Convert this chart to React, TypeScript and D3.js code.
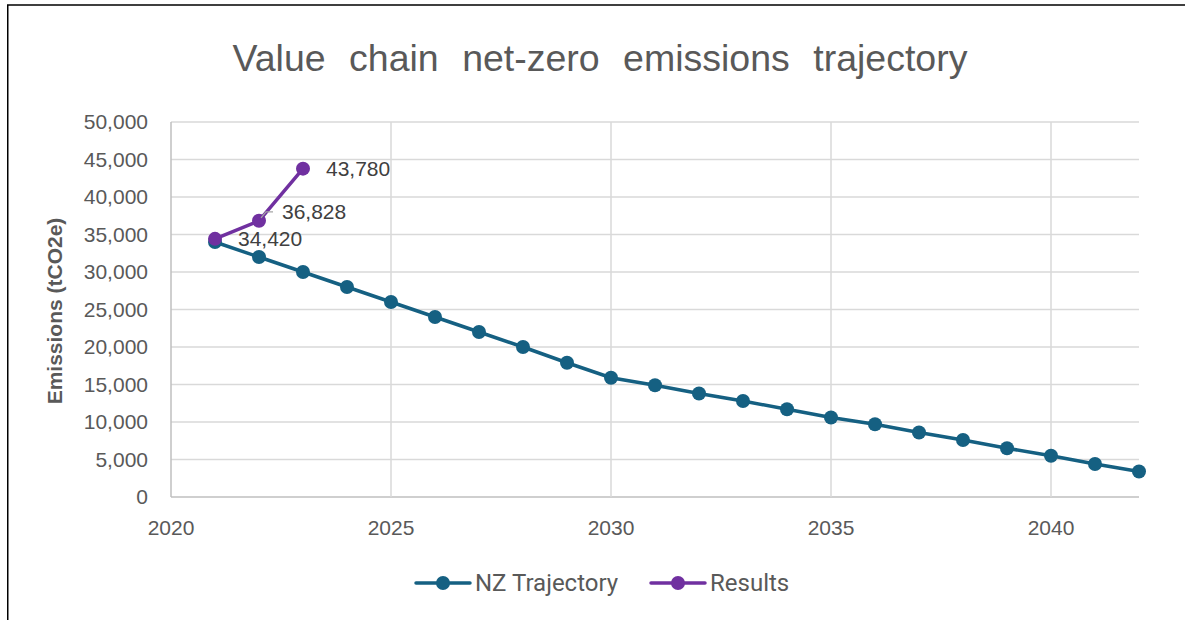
import React from "react";
import * as d3 from "d3";

const years: number[] = [2021, 2022, 2023, 2024, 2025, 2026, 2027, 2028, 2029, 2030, 2031, 2032, 2033, 2034, 2035, 2036, 2037, 2038, 2039, 2040, 2041, 2042];
const nzTrajectory: number[] = [34000, 32000, 30000, 28000, 26000, 24000, 22000, 20000, 17900, 15900, 14900, 13800, 12800, 11700, 10600, 9700, 8600, 7600, 6500, 5500, 4400, 3400];
const resultYears: number[] = [2021, 2022, 2023];
const results: number[] = [34420, 36828, 43780];
const xTicks: number[] = [2020, 2025, 2030, 2035, 2040];
const yTicks: number[] = [0, 5000, 10000, 15000, 20000, 25000, 30000, 35000, 40000, 45000, 50000];

const TITLE = "Value chain net-zero emissions trajectory";
const Y_TITLE = "Emissions (tCO2e)";
const SERIES = ["NZ Trajectory", "Results"];

const W = 1185;
const H = 620;
const left = 171;
const right = 1139;
const top = 122;
const bottom = 497;
const TEAL = "#156082";
const PURPLE = "#7030A0";
const GRID = "#d9d9d9";
const TEXT = "#595959";
const SANS = "'Liberation Sans', Arial, sans-serif";

export default function App() {
  const x = d3.scaleLinear().domain([2020, 2042]).range([left, right]);
  const y = d3.scaleLinear().domain([0, 50000]).range([bottom, top]);
  const fmt = d3.format(",");
  const line = d3
    .line<[number, number]>()
    .x((d) => x(d[0]))
    .y((d) => y(d[1]));
  const nzPts: [number, number][] = years.map((yr, i) => [yr, nzTrajectory[i]]);
  const resPts: [number, number][] = resultYears.map((yr, i) => [yr, results[i]]);

  return (
    <svg
      width={W}
      height={H}
      style={{ position: "absolute", left: 0, top: 0, background: "#fff" }}
    >
      <rect x={0} y={0} width={W} height={H} fill="#fff" />
      <rect x={7.75} y={5} width={1300} height={800} fill="none" stroke="#000" strokeWidth={1.5} />
      <text
        x={600}
        y={71}
        textAnchor="middle"
        fontFamily={SANS}
        fontSize={37.5}
        fill={TEXT}
        style={{ wordSpacing: "13px" }}
      >
        {TITLE}
      </text>

      {/* gridlines */}
      {yTicks.map((t) => (
        <line key={"gy" + t} x1={left} x2={right} y1={y(t)} y2={y(t)} stroke={t === 0 ? "#bfbfbf" : GRID} strokeWidth={1.5} />
      ))}
      {xTicks.map((t) => (
        <line key={"gx" + t} x1={x(t)} x2={x(t)} y1={top} y2={bottom} stroke={t === 2020 ? "#bfbfbf" : GRID} strokeWidth={1.5} />
      ))}

      {/* y tick labels */}
      {yTicks.map((t) => (
        <text key={"ly" + t} x={148} y={y(t) + 7} textAnchor="end" fontFamily={SANS} fontSize={21} fill={TEXT}>
          {fmt(t)}
        </text>
      ))}
      {/* x tick labels */}
      {xTicks.map((t) => (
        <text key={"lx" + t} x={x(t)} y={535} textAnchor="middle" fontFamily={SANS} fontSize={21} fill={TEXT}>
          {t}
        </text>
      ))}

      <text
        transform={`translate(62,311) rotate(-90)`}
        textAnchor="middle"
        fontFamily={SANS}
        fontSize={21}
        fontWeight="bold"
        fill={TEXT}
      >
        {Y_TITLE}
      </text>

      {/* NZ series */}
      <path d={line(nzPts) || ""} fill="none" stroke={TEAL} strokeWidth={3.5} />
      {nzPts.map((p, i) => (
        <circle key={"nz" + i} cx={x(p[0])} cy={y(p[1])} r={7} fill={TEAL} />
      ))}

      {/* Results series */}
      <path d={line(resPts) || ""} fill="none" stroke={PURPLE} strokeWidth={3.5} />
      {resPts.map((p, i) => (
        <circle key={"rs" + i} cx={x(p[0])} cy={y(p[1])} r={7} fill={PURPLE} />
      ))}

      {/* leader line for middle label */}
      <polyline
        points={`${x(resPts[1][0]) + 2},${y(resPts[1][1]) - 3} ${x(resPts[1][0]) + 7},${y(resPts[1][1]) - 9} ${x(resPts[1][0]) + 14},${y(resPts[1][1]) - 9}`}
        fill="none"
        stroke="#a6a6a6"
        strokeWidth={1.2}
      />

      {/* data labels */}
      {resPts.map((p, i) => {
        const dy = i === 1 ? -9 : 0;
        return (
          <text
            key={"dl" + i}
            x={x(p[0]) + 23}
            y={y(p[1]) + dy + 7.5}
            fontFamily={SANS}
            fontSize={21}
            fill="#404040"
          >
            {fmt(p[1])}
          </text>
        );
      })}

      {/* legend */}
      {SERIES.map((s, i) => {
        const lx = i === 0 ? 416 : 651;
        const col = i === 0 ? TEAL : PURPLE;
        return (
          <g key={"lg" + s}>
            <line x1={lx} x2={lx + 54} y1={583} y2={583} stroke={col} strokeWidth={3.5} strokeLinecap="round" />
            <circle cx={lx + 27} cy={583} r={7} fill={col} />
            <text x={lx + 59} y={591} fontFamily="Roboto, sans-serif" fontSize={24} fill={TEXT}>
              {s}
            </text>
          </g>
        );
      })}
    </svg>
  );
}
